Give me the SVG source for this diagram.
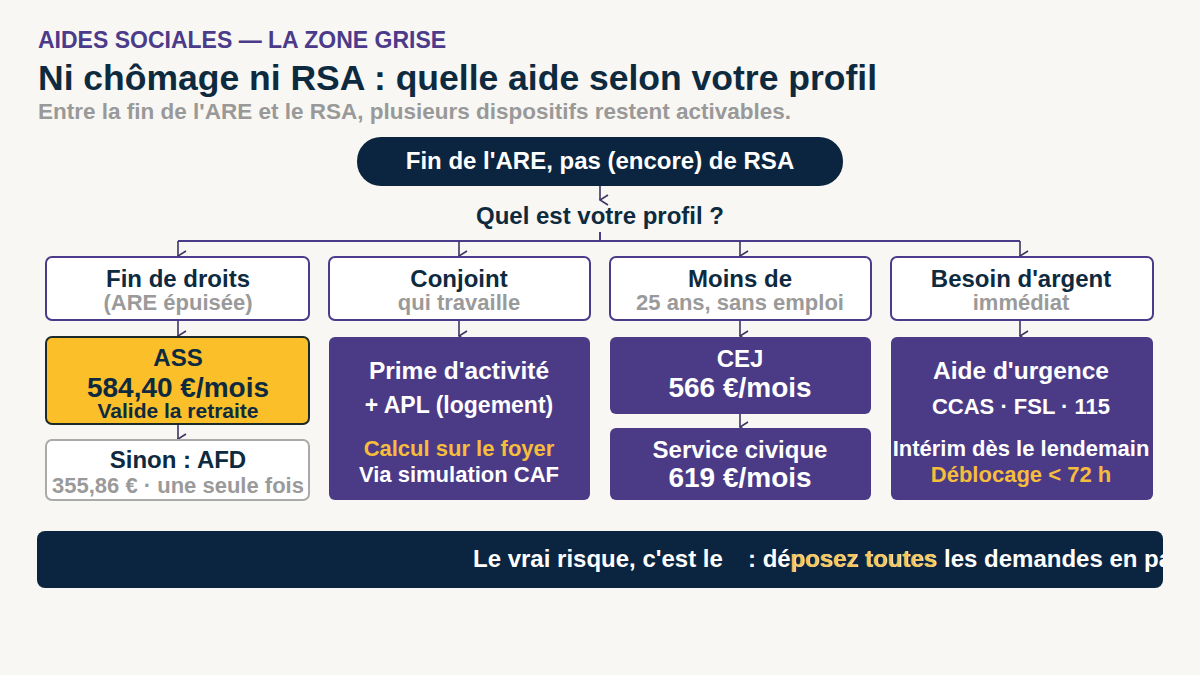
<svg xmlns="http://www.w3.org/2000/svg" width="1200" height="675" viewBox="0 0 1200 675">
<defs>
<marker id="ah" markerWidth="12" markerHeight="10" refX="6" refY="9" orient="auto-start-reverse" markerUnits="userSpaceOnUse" viewBox="0 0 12 10">
<path d="M1,1 L6,9 L11,1" fill="none" stroke="#3a3560" stroke-width="1.6"/>
</marker>
<clipPath id="bc"><rect x="37" y="531" width="1126" height="57" rx="8"/></clipPath>
</defs>
<style>
text{font-family:"Liberation Sans",Arial,sans-serif;font-weight:bold}
.c{text-anchor:middle}
.hd{fill:#fff;stroke:#4b3b8a;stroke-width:2}
.pp{fill:#4b3b87}
.t{font-size:24px;fill:#0e2a3f}
.g{font-size:22px;fill:#9a9a9a}
.w{fill:#fff}
.y{fill:#f6bd3c}
.ln{stroke:#4b3b8a;stroke-width:2;fill:none}
.ar{stroke:#3a3560;stroke-width:1.6;fill:none;marker-end:url(#ah)}
</style>
<rect width="1200" height="675" fill="#f8f7f3"/>
<text x="38" y="48" font-size="23" fill="#4b3b8a">AIDES SOCIALES — LA ZONE GRISE</text>
<text x="38" y="90" font-size="35.5" fill="#0e2a3f">Ni chômage ni RSA : quelle aide selon votre profil</text>
<text x="38" y="119" font-size="22.5" fill="#999">Entre la fin de l'ARE et le RSA, plusieurs dispositifs restent activables.</text>

<g id="connectors">
<path class="ar" d="M600,186 V200"/>
<path class="ln" d="M600,232 V241 M178,241 H1020"/>
<path class="ar" d="M178,241 V256"/>
<path class="ar" d="M459,241 V256"/>
<path class="ar" d="M740,241 V256"/>
<path class="ar" d="M1020,241 V256"/>
<path class="ar" d="M178,320 V336"/>
<path class="ar" d="M459,320 V336"/>
<path class="ar" d="M740,320 V336"/>
<path class="ar" d="M1020,320 V336"/>
<path class="ar" d="M178,424 V439"/>
<path class="ar" d="M740,414 V427"/>
</g>

<g id="start">
<rect x="357" y="137" width="486" height="49" rx="24" fill="#0b2540"/>
<text class="c w" x="600" y="169" font-size="24">Fin de l'ARE, pas (encore) de RSA</text>
</g>
<g id="question"><text class="c t" x="600" y="224">Quel est votre profil ?</text></g>

<g id="h1"><rect class="hd" x="46" y="257" width="263" height="63" rx="6"/>
<text class="c t" x="178" y="287">Fin de droits</text><text class="c g" x="178" y="310">(ARE épuisée)</text></g>
<g id="h2"><rect class="hd" x="329" y="257" width="261" height="63" rx="6"/>
<text class="c t" x="459" y="287">Conjoint</text><text class="c g" x="459" y="310">qui travaille</text></g>
<g id="h3"><rect class="hd" x="610" y="257" width="261" height="63" rx="6"/>
<text class="c t" x="740" y="287">Moins de</text><text class="c g" x="740" y="310">25 ans, sans emploi</text></g>
<g id="h4"><rect class="hd" x="891" y="257" width="262" height="63" rx="6"/>
<text class="c t" x="1021" y="287">Besoin d'argent</text><text class="c g" x="1021" y="310">immédiat</text></g>

<g id="ass"><rect x="46" y="337" width="263" height="87" rx="6" fill="#fbbf2a" stroke="#1d2a2a" stroke-width="2"/>
<text class="c t" x="178" y="366">ASS</text>
<text class="c" x="178" y="397" font-size="28" fill="#0e2a3f">584,40 €/mois</text>
<text class="c" x="178" y="418" font-size="21" fill="#0e2a3f">Valide la retraite</text></g>
<g id="afd"><rect x="46" y="440" width="263" height="60" rx="6" fill="#fff" stroke="#aaa" stroke-width="2"/>
<text class="c t" x="178" y="468">Sinon : AFD</text>
<text class="c" x="178" y="493" font-size="22" fill="#9a9a9a">355,86 € · une seule fois</text></g>

<g id="prime"><rect class="pp" x="329" y="337" width="261" height="163" rx="6"/>
<text class="c w" x="459" y="379" font-size="24.5">Prime d'activité</text>
<text class="c w" x="459" y="413" font-size="23">+ APL (logement)</text>
<text class="c y" x="459" y="456" font-size="22">Calcul sur le foyer</text>
<text class="c w" x="459" y="482" font-size="22">Via simulation CAF</text></g>

<g id="cej"><rect class="pp" x="610" y="337" width="261" height="77" rx="6"/>
<text class="c w" x="740" y="367" font-size="24">CEJ</text>
<text class="c w" x="740" y="397" font-size="28">566 €/mois</text></g>
<g id="civique"><rect class="pp" x="610" y="428" width="261" height="72" rx="6"/>
<text class="c w" x="740" y="458" font-size="24">Service civique</text>
<text class="c w" x="740" y="487" font-size="28">619 €/mois</text></g>

<g id="urgence"><rect class="pp" x="891" y="337" width="262" height="163" rx="6"/>
<text class="c w" x="1021" y="379" font-size="24.5">Aide d'urgence</text>
<text class="c w" x="1021" y="414" font-size="22">CCAS · FSL · 115</text>
<text class="c w" x="1021" y="456" font-size="22">Intérim dès le lendemain</text>
<text class="c y" x="1021" y="482" font-size="22">Déblocage &lt; 72 h</text></g>

<g id="banner">
<rect x="37" y="531" width="1126" height="57" rx="8" fill="#0b2540"/>
<g clip-path="url(#bc)">
<text class="w" x="473" y="567" font-size="24">Le vrai risque, c'est le</text>
<text class="w" x="748" y="567" font-size="24">: déposez toutes les demandes en parallèle</text>
<text class="y" x="790" y="567" font-size="24" opacity="0.85">posez toutes</text>
</g>
</g>
</svg>
